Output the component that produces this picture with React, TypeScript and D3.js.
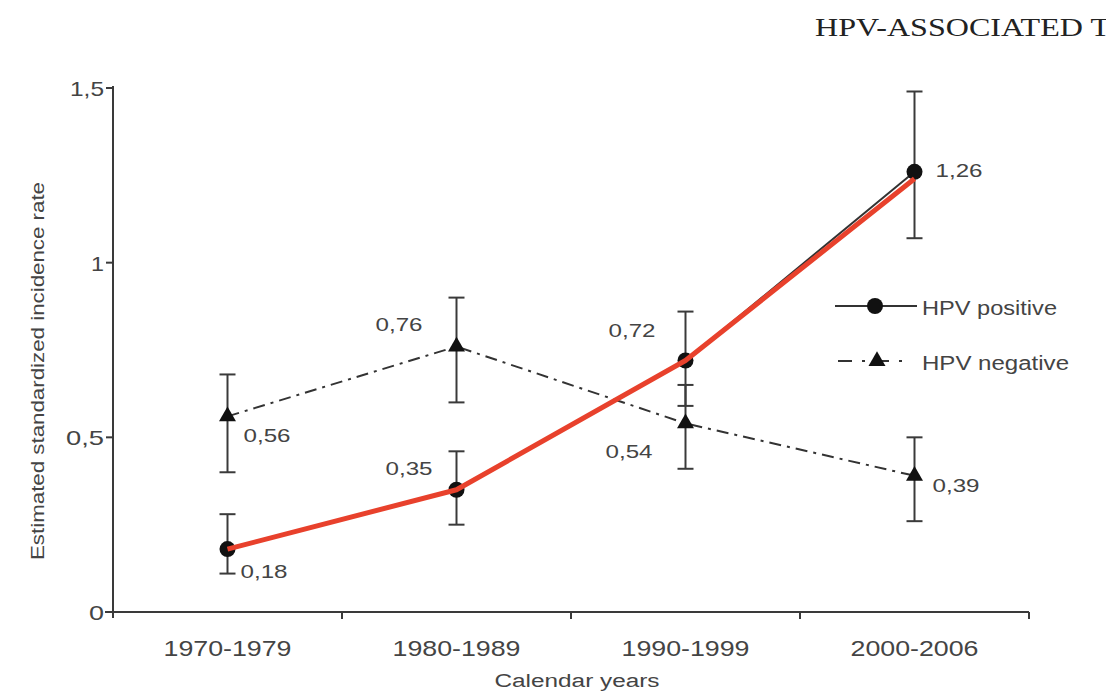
import React from "react";
import * as d3 from "d3";

const categories = ["1970-1979", "1980-1989", "1990-1999", "2000-2006"];
const posValues = [0.18, 0.35, 0.72, 1.26];
const posLow = [0.11, 0.25, 0.59, 1.07];
const posHigh = [0.28, 0.46, 0.86, 1.49];
const negValues = [0.56, 0.76, 0.54, 0.39];
const negLow = [0.4, 0.6, 0.41, 0.26];
const negHigh = [0.68, 0.9, 0.65, 0.5];
const redOverlay = [0.18, 0.35, 0.72, 1.24];
const yTicks = [0, 0.5, 1, 1.5];
const yTickLabels = ["0", "0,5", "1", "1,5"];
const posLabels = ["0,18", "0,35", "0,72", "1,26"];
const negLabels = ["0,56", "0,76", "0,54", "0,39"];

const W = 1106;
const H = 695;
const left = 113;
const right = 1029;
const top = 88;
const bottom = 612;

const FONT = "'Liberation Sans', Arial, sans-serif";
const TXT = "#444";
const AX = "#3a3a3a";

export default function App() {
  const x = d3.scaleBand<string>().domain(categories).range([left, right]).padding(0);
  const cx = (c: string) => (x(c) as number) + x.bandwidth() / 2;
  const y = d3.scaleLinear().domain([0, 1.5]).range([bottom, top]);

  const line = d3
    .line<number>()
    .x((_, i) => cx(categories[i]))
    .y((d) => y(d));

  const tri = d3.symbol().type(d3.symbolTriangle).size(125)();

  const posLabelPos: [number, number, string][] = [
    [13, 29, "start"],
    [-24, -15, "end"],
    [-30, -23, "end"],
    [21, 5, "start"],
  ];
  const negLabelPos: [number, number, string][] = [
    [16, 26, "start"],
    [-34, -16, "end"],
    [-33, 35, "end"],
    [18, 16, "start"],
  ];

  const bars = (lo: number[], hi: number[], key: string) =>
    categories.map((c, i) => (
      <g key={key + i} stroke={AX} strokeWidth={2}>
        <line x1={cx(c)} x2={cx(c)} y1={y(lo[i])} y2={y(hi[i])} />
        <line x1={cx(c) - 8} x2={cx(c) + 8} y1={y(lo[i])} y2={y(lo[i])} />
        <line x1={cx(c) - 8} x2={cx(c) + 8} y1={y(hi[i])} y2={y(hi[i])} />
      </g>
    ));

  const bandEdges = categories.map((c) => (x(c) as number) + x.bandwidth());
  const yTickWidths = [15, 38, 13, 34];

  return (
    <svg
      width={W}
      height={H}
      style={{ position: "absolute", left: 0, top: 0, background: "#fff" }}
    >
      <rect width={W} height={H} fill="#fff" />
      <text
        x={815}
        y={36}
        fontFamily="'Liberation Serif', 'Times New Roman', serif"
        fontSize={26}
        fill="#222"
        textLength={295}
        lengthAdjust="spacingAndGlyphs"
      >
        HPV-ASSOCIATED T
      </text>

      <line x1={left} x2={left} y1={top - 2} y2={bottom + 6} stroke={AX} strokeWidth={2} />
      <line x1={left - 8} x2={right} y1={bottom} y2={bottom} stroke={AX} strokeWidth={2} />
      {yTicks.map((t, i) => (
        <g key={"yt" + i}>
          <line x1={left - 7} x2={left} y1={y(t)} y2={y(t)} stroke={AX} strokeWidth={2} />
          <text
            x={104}
            y={y(t) + 8}
            textAnchor="end"
            fontFamily={FONT}
            fontSize={21}
            fill={TXT}
            textLength={yTickWidths[i]}
            lengthAdjust="spacingAndGlyphs"
          >
            {yTickLabels[i]}
          </text>
        </g>
      ))}
      {bandEdges.map((bx, i) => (
        <line key={"xt" + i} x1={bx} x2={bx} y1={bottom} y2={bottom + 7} stroke={AX} strokeWidth={2} />
      ))}
      {categories.map((c) => (
        <text
          key={"xl" + c}
          x={cx(c)}
          y={656}
          textAnchor="middle"
          fontFamily={FONT}
          fontSize={22}
          fill={TXT}
          textLength={128}
          lengthAdjust="spacingAndGlyphs"
        >
          {c}
        </text>
      ))}
      <text
        x={577}
        y={687}
        textAnchor="middle"
        fontFamily={FONT}
        fontSize={18}
        fill={TXT}
        textLength={165}
        lengthAdjust="spacingAndGlyphs"
      >
        Calendar years
      </text>
      <text
        transform={`translate(44, 371) rotate(-90)`}
        textAnchor="middle"
        fontFamily={FONT}
        fontSize={18}
        fill={TXT}
        textLength={378}
        lengthAdjust="spacingAndGlyphs"
      >
        Estimated standardized incidence rate
      </text>

      {bars(negLow, negHigh, "nb")}
      {bars(posLow, posHigh, "pb")}

      <path
        d={line(negValues) || ""}
        fill="none"
        stroke="#333"
        strokeWidth={2}
        strokeDasharray="12,6,3,6"
      />
      <path d={line(posValues) || ""} fill="none" stroke="#333" strokeWidth={2} />

      {categories.map((c, i) => (
        <path key={"tri" + i} d={tri || ""} transform={`translate(${cx(c)},${y(negValues[i])})`} fill="#111" />
      ))}
      {categories.map((c, i) => (
        <circle key={"cir" + i} cx={cx(c)} cy={y(posValues[i])} r={8} fill="#111" />
      ))}

      <path d={line(redOverlay) || ""} fill="none" stroke="#e8412c" strokeWidth={5} strokeLinejoin="round" />

      {categories.map((c, i) => (
        <text
          key={"pl" + i}
          x={cx(c) + posLabelPos[i][0]}
          y={y(posValues[i]) + posLabelPos[i][1]}
          textAnchor={posLabelPos[i][2] as any}
          fontFamily={FONT}
          fontSize={19}
          fill={TXT}
          textLength={47}
          lengthAdjust="spacingAndGlyphs"
        >
          {posLabels[i]}
        </text>
      ))}
      {categories.map((c, i) => (
        <text
          key={"nl" + i}
          x={cx(c) + negLabelPos[i][0]}
          y={y(negValues[i]) + negLabelPos[i][1]}
          textAnchor={negLabelPos[i][2] as any}
          fontFamily={FONT}
          fontSize={19}
          fill={TXT}
          textLength={47}
          lengthAdjust="spacingAndGlyphs"
        >
          {negLabels[i]}
        </text>
      ))}

      <g>
        <line x1={835} x2={917} y1={306} y2={306} stroke="#333" strokeWidth={2} />
        <circle cx={875} cy={306} r={8} fill="#111" />
        <text
          x={922}
          y={315}
          fontFamily={FONT}
          fontSize={20}
          fill={TXT}
          textLength={135}
          lengthAdjust="spacingAndGlyphs"
        >
          HPV positive
        </text>
        <line
          x1={838}
          x2={910}
          y1={361}
          y2={361}
          stroke="#333"
          strokeWidth={2}
          strokeDasharray="14,10,3,10"
        />
        <path d={tri || ""} transform="translate(877,361)" fill="#111" />
        <text
          x={922}
          y={370}
          fontFamily={FONT}
          fontSize={20}
          fill={TXT}
          textLength={147}
          lengthAdjust="spacingAndGlyphs"
        >
          HPV negative
        </text>
      </g>
    </svg>
  );
}
